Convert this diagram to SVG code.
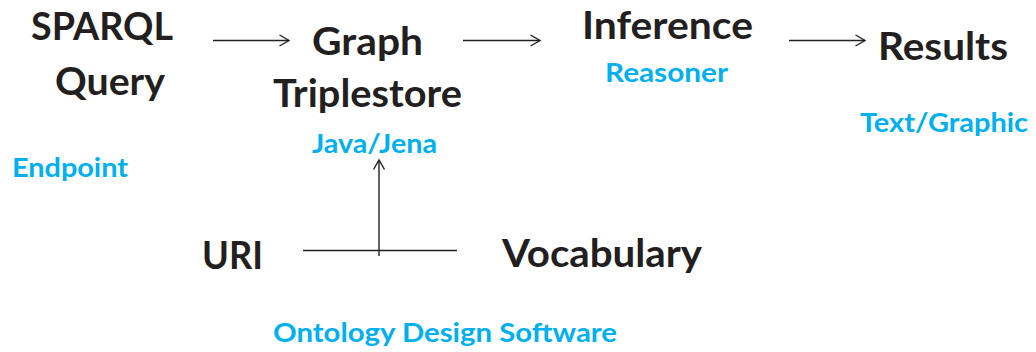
<svg xmlns="http://www.w3.org/2000/svg" width="1036" height="352" viewBox="0 0 1036 352">
  <defs>
    <marker id="arrow" markerUnits="userSpaceOnUse" markerWidth="14" markerHeight="14" viewBox="0 0 14 14" refX="11" refY="7" orient="auto">
      <path d="M1.5,1.5 L11,7 L1.5,12.5" fill="none" stroke="#231f20" stroke-width="1.4"/>
    </marker>
    <style>
      .title { font-family: Lato, "Open Sans", "Liberation Sans", sans-serif; font-weight: 700; font-size: 37.5px; fill: #231f20; }
      .sub { font-family: Lato, "Open Sans", "Liberation Sans", sans-serif; font-weight: 700; font-size: 27px; fill: #00b0f0; }
      .link { stroke: #231f20; stroke-width: 1.4; fill: none; }
    </style>
  </defs>
  <rect width="1036" height="352" fill="#ffffff"/>

  <g id="sparql-query">
    <text class="title" x="31" y="40" textLength="142" lengthAdjust="spacingAndGlyphs">SPARQL</text>
    <text class="title" x="55" y="95" textLength="110" lengthAdjust="spacingAndGlyphs">Query</text>
  </g>
  <g id="endpoint">
    <text class="sub" x="12" y="177" textLength="116" lengthAdjust="spacingAndGlyphs">Endpoint</text>
  </g>
  <g id="graph-triplestore">
    <text class="title" x="312" y="55" textLength="111" lengthAdjust="spacingAndGlyphs">Graph</text>
    <text class="title" x="273" y="107" textLength="189" lengthAdjust="spacingAndGlyphs">Triplestore</text>
    <text class="sub" x="312" y="153" textLength="125" lengthAdjust="spacingAndGlyphs">Java/Jena</text>
  </g>
  <g id="inference">
    <text class="title" x="582" y="39" textLength="171" lengthAdjust="spacingAndGlyphs">Inference</text>
    <text class="sub" x="605" y="82" textLength="123" lengthAdjust="spacingAndGlyphs">Reasoner</text>
  </g>
  <g id="results">
    <text class="title" x="878" y="60" textLength="130" lengthAdjust="spacingAndGlyphs">Results</text>
    <text class="sub" x="860" y="132" textLength="168" lengthAdjust="spacingAndGlyphs">Text/Graphic</text>
  </g>
  <g id="uri">
    <text class="title" x="202" y="269" textLength="61" lengthAdjust="spacingAndGlyphs">URI</text>
  </g>
  <g id="vocabulary">
    <text class="title" x="502" y="267" textLength="200" lengthAdjust="spacingAndGlyphs">Vocabulary</text>
  </g>
  <g id="ontology-design-software">
    <text class="sub" x="273" y="342" textLength="344" lengthAdjust="spacingAndGlyphs">Ontology Design Software</text>
  </g>

  <g id="connectors">
    <line class="link" x1="213" y1="40.5" x2="289" y2="40.5" marker-end="url(#arrow)"/>
    <line class="link" x1="463" y1="40.5" x2="540" y2="40.5" marker-end="url(#arrow)"/>
    <line class="link" x1="789" y1="40.5" x2="865" y2="40.5" marker-end="url(#arrow)"/>
    <line class="link" x1="303" y1="250.5" x2="457" y2="250.5"/>
    <line class="link" x1="379" y1="256" x2="379" y2="160" marker-end="url(#arrow)"/>
  </g>
</svg>
